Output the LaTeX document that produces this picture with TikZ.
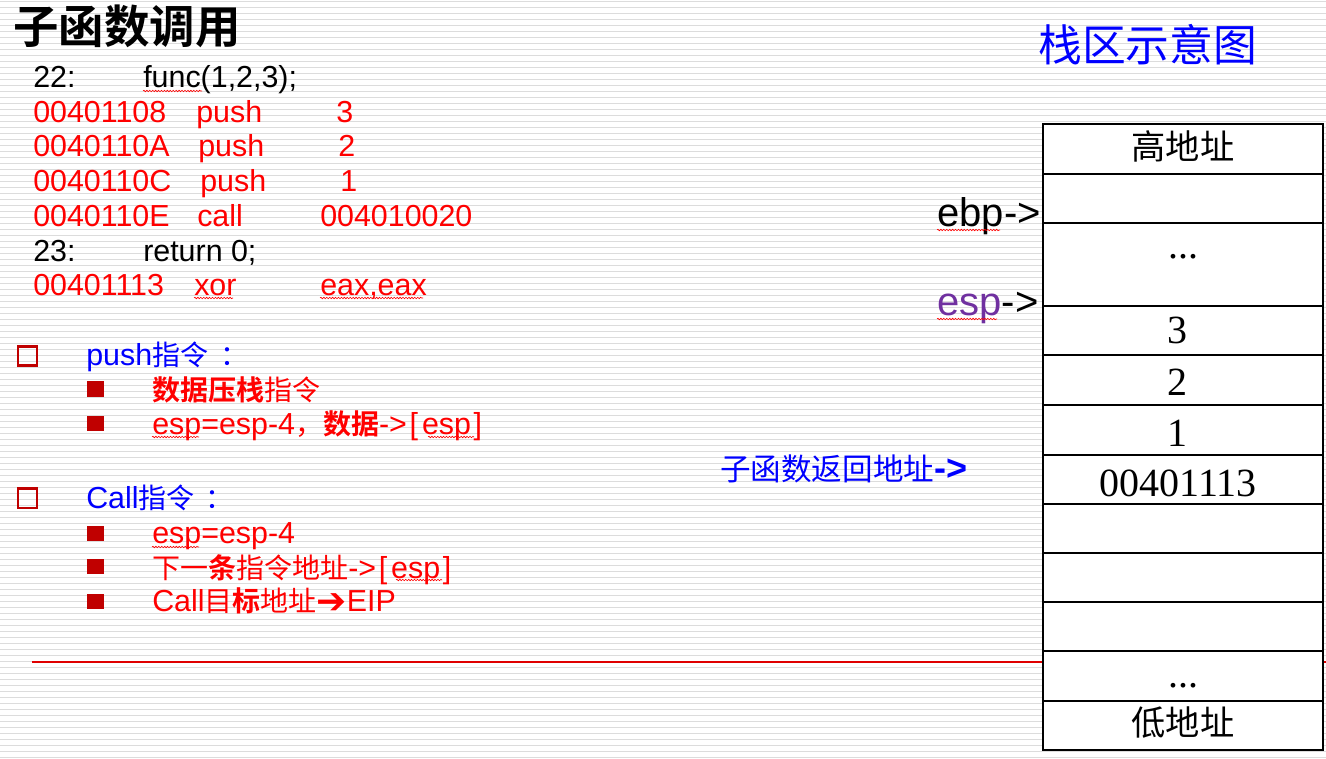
\documentclass[tikz,border=0pt]{standalone}
\usepackage{fontspec}
\setmainfont{Liberation Sans}
\newfontfamily\cjk[Scale=0.955,BoldFont={Noto Sans CJK SC Bold}]{Noto Sans CJK SC}
\newfontfamily\cjks[Scale=0.921,BoldFont={Noto Sans CJK SC Bold}]{Noto Sans CJK SC}
\newfontfamily\serifn{Liberation Serif}
\newfontfamily\dejavu{DejaVu Sans}
\usetikzlibrary{decorations.pathmorphing}
\definecolor{tred}{RGB}{255,0,0}
\definecolor{bred}{RGB}{192,0,0}
\definecolor{rulered}{RGB}{224,0,0}
\definecolor{tblue}{RGB}{0,0,255}
\definecolor{tpurple}{RGB}{112,48,160}
\definecolor{stripe}{RGB}{220,220,220}
\newcommand\zh[1]{{\cjks #1}}
\newcommand\zhb[1]{{\cjks\bfseries #1}}
\newcommand\espref{->\kern2pt[\kern3pt esp\kern2pt]}
\begin{document}
\begin{tikzpicture}[x=0.75pt,y=-0.75pt,
  txt/.style={anchor=base west, inner sep=0pt, font=\fontsize{22.8}{26}\selectfont},
  txtred/.style={txt, text=tred},
  txtblue/.style={txt, text=tblue},
  hollowbox/.style={draw=bred, line width=1.9pt, minimum size=14.4pt, inner sep=0pt},
  solidbox/.style={fill=bred, minimum width=12.5pt, minimum height=11.5pt, inner sep=0pt},
  cell/.style={draw=black, fill=white, line width=1.5pt, minimum width=210pt, inner sep=0pt},
  celltxt/.style={anchor=base, inner sep=0pt, font=\serifn\fontsize{30}{34}\selectfont},
  cellzh/.style={anchor=base, inner sep=0pt, font=\cjk\fontsize{26.9}{30}\selectfont},
  ptr/.style={anchor=base west, inner sep=0pt, font=\fontsize{30}{34}\selectfont},
  squig/.style={draw=tred, line width=0.45pt, decorate, decoration={snake, amplitude=0.55pt, segment length=2.2pt}},
  stripeline/.style={draw=stripe, line width=1pt},
  rule/.style={draw=rulered, line width=1.1pt}
]
\useasboundingbox (0,0) rectangle (1326,759);
% background
\fill[white] (0,0) rectangle (1326,759);
\foreach \i in {0,...,126} \draw[stripeline] (0,{6*\i+1.7}) -- (1326,{6*\i+1.7});
% red rule
\draw[rule] (32,662) -- (1326,662);

% titles
\node[anchor=base west, inner sep=0pt, font=\cjk\bfseries\fontsize{35.7}{40}\selectfont] (title) at (13,44) {子函数调用};
\node[anchor=base west, inner sep=0pt, text=tblue, font=\cjk\fontsize{34.4}{38}\selectfont] (stitle) at (1038,62) {栈区示意图};

% code
\node[txt] (l22) at (33,88) {22:};
\node[txt] (f22) at (143,88) {func(1,2,3);};
\node[txtred] (a1) at (33,123) {00401108};
\node[txtred] (o1) at (196,123) {push};
\node[txtred] (v1) at (336,123) {3};
\node[txtred] (a2) at (33,157) {0040110A};
\node[txtred] (o2) at (198,157) {push};
\node[txtred] (v2) at (338,157) {2};
\node[txtred] (a3) at (33,192) {0040110C};
\node[txtred] (o3) at (200,192) {push};
\node[txtred] (v3) at (340,192) {1};
\node[txtred] (a4) at (33,226) {0040110E};
\node[txtred] (o4) at (197,226) {call};
\node[txtred] (v4) at (320,226) {004010020};
\node[txt] (l23) at (33,261) {23:};
\node[txt] (f23) at (143,261) {return 0;};
\node[txtred] (a5) at (33,295) {00401113};
\node[txtred] (o5) at (194,295) {xor};
\node[txtred] (v5) at (320,295) {eax,eax};

% bullets
\node[hollowbox] (hb1) at (27.5,356) {};
\node[txtblue] (h1) at (86,365) {push\zh{指令\kern0.45em：}};
\node[solidbox] (sb1) at (95.7,389) {};
\node[txtred] (s1) at (152,400) {\zhb{数据压栈}\zh{指令}};
\node[solidbox] (sb2) at (95.7,423.5) {};
\node[txtred] (s2) at (152,434) {esp=esp-4\zh{，}\zhb{数据}\espref};
\node[hollowbox] (hb2) at (27.5,498.3) {};
\node[txtblue] (h2) at (86,508) {Call\zh{指令\kern0.4em：}};
\node[solidbox] (sb3) at (95.7,533.3) {};
\node[txtred] (s3) at (152,543) {esp=esp-4};
\node[solidbox] (sb4) at (95.7,566.7) {};
\node[txtred] (s4) at (152,578) {\zh{下一}\zhb{条}\zh{指令地址}\espref};
\node[solidbox] (sb5) at (95.7,601.3) {};
\node[txtred] (s5) at (152,611.7) {Call\zh{目}\zhb{标}\zh{地址}\raisebox{-1pt}{\dejavu\fontsize{27}{30}\selectfont ➔}EIP};

% stack
\foreach \ya/\yb [count=\k] in {124/174,174/223,223/306,306/355,355/405,405/455,455/504,504/553,553/602,602/651,651/701,701/750}
  \node[cell, minimum height={(\yb-\ya)*0.75pt}] (r\k) at (1183,{(\ya+\yb)/2}) {};
\node[cellzh] (t1) at (1183,160) {高地址};
\node[celltxt] (t3) at (1183,258) {...};
\node[celltxt] (t4) at (1177,343) {3};
\node[celltxt] (t5) at (1177,395) {2};
\node[celltxt] (t6) at (1177,446) {1};
\node[celltxt] (t7) at (1178,496) {00401113};
\node[celltxt] (t11) at (1183,687) {...};
\node[cellzh] (t12) at (1183,735) {低地址};

% pointers
\node[ptr] (ebp) at (937,227) {ebp->};
\node[ptr] (esp) at (937,315) {\textcolor{tpurple}{esp}->};
\node[anchor=base west, inner sep=0pt, text=tblue] (ret) at (720,480) {{\cjk\fontsize{24}{28}\selectfont 子函数返回地址}{\bfseries\fontsize{27}{30}\selectfont ->}};

% spell-check squiggles
\draw[squig] (143,91) -- (202,91);
\draw[squig] (194,298) -- (233,298);
\draw[squig] (320,298) -- (423,298);
\draw[squig] (937,230) -- (1000,230);
\draw[squig] (937,319) -- (997,319);
\draw[squig] (152,437) -- (199,437);
\draw[squig] (428,437) -- (474,437);
\draw[squig] (152,547) -- (199,547);
\draw[squig] (396,580) -- (442,580);
\end{tikzpicture}
\end{document}
